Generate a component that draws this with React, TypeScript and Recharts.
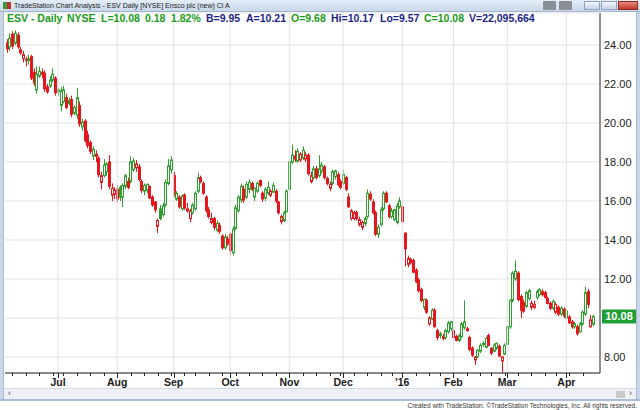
import React from "react";
import { ComposedChart, Bar, XAxis, YAxis, CartesianGrid, ReferenceLine } from "recharts";

// ---- data ----
const OPEN = [24.1,23.9,24.55,24.1,24.5,23.75,23.3,23.2,23.2,23.4,22.6,21.7,22.4,22.5,22.55,21.85,21.9,22.2,22.3,21.7,20.9,21.1,21.3,21.15,21.2,20.5,20.4,20.9,19.8,20.1,19.4,19.0,18.3,18.4,18.2,16.95,17.3,17.5,18.0,16.3,16.35,16.6,16.7,16.2,16.75,17.0,17.0,17.6,17.7,17.75,17.0,16.5,16.55,16.75,16.2,15.95,14.7,15.6,15.3,15.8,16.9,17.6,17.3,16.1,16.2,15.6,16.3,15.5,15.1,15.4,15.6,16.5,17.2,16.9,16.2,15.55,14.9,15.1,14.5,14.75,14.2,13.6,14.05,14.3,13.35,14.6,15.5,16.05,16.6,16.2,16.6,16.9,16.2,16.5,17.05,16.4,16.15,16.4,16.3,16.45,16.5,15.95,14.95,15.0,15.45,16.6,18.0,18.3,18.05,18.1,18.2,18.15,18.35,17.0,17.2,17.65,17.3,17.55,17.75,17.15,16.65,16.9,17.25,17.35,17.0,16.9,17.2,16.2,15.1,15.1,15.4,14.8,14.65,14.85,15.2,16.35,15.95,15.4,14.3,14.8,15.6,16.4,15.75,15.2,15.05,14.9,15.7,15.7,14.35,12.75,13.0,12.95,12.45,11.95,11.45,10.55,10.9,9.7,9.95,10.4,9.35,9.2,8.95,9.0,9.3,9.45,9.0,9.05,8.85,9.05,9.5,9.45,9.0,8.45,7.85,8.0,8.3,8.7,8.5,9.1,8.45,8.3,8.45,8.55,7.8,8.15,8.65,9.55,10.9,12.0,12.3,11.1,10.8,10.6,11.0,10.55,10.55,11.05,11.2,11.35,11.3,11.0,10.75,10.5,10.3,10.55,10.2,10.45,10.0,10.05,9.8,9.55,9.55,9.3,9.7,10.2,11.35,9.55,9.68];
const HIGH = [24.3,24.6,24.7,24.75,24.65,23.9,23.7,23.4,23.5,23.5,22.8,22.9,22.9,22.8,22.7,22.0,22.4,22.8,22.4,21.8,21.85,21.9,21.5,21.3,21.4,20.9,21.8,21.1,20.2,20.2,19.6,19.1,18.8,18.6,18.3,17.5,18.15,18.0,18.35,16.9,16.7,16.8,16.8,16.9,17.4,17.2,18.3,18.2,18.1,17.9,17.1,16.9,16.9,16.8,16.3,16.0,15.1,15.8,15.9,17.1,18.15,18.3,17.5,16.5,16.3,16.35,16.4,15.9,15.6,15.9,16.5,17.45,17.3,17.0,16.3,15.7,15.4,15.2,15.0,14.9,14.3,14.3,14.2,14.4,14.7,15.8,16.3,16.9,16.8,17.0,17.1,17.0,16.7,17.0,17.1,16.5,16.7,17.0,16.6,16.95,16.6,16.0,15.3,15.5,16.6,18.1,18.9,18.6,18.7,18.5,18.8,18.5,18.45,17.5,17.8,17.8,18.35,18.0,17.85,17.25,17.0,17.6,17.6,17.5,17.1,17.6,17.3,16.4,15.6,15.5,15.5,15.2,15.0,15.2,16.6,16.5,16.1,15.5,14.8,15.7,16.5,16.5,15.85,15.65,15.6,15.9,16.2,15.8,14.4,13.2,13.1,13.05,12.55,12.05,11.55,11.0,11.0,10.1,10.5,10.5,9.45,9.3,9.2,9.45,9.85,9.85,9.45,9.15,9.2,9.8,10.9,9.55,9.1,8.55,8.05,8.4,8.7,8.8,9.05,9.2,8.5,8.7,8.75,8.65,8.05,8.7,9.6,10.95,12.4,12.95,12.4,11.2,10.95,11.4,11.5,10.9,10.9,11.45,11.55,11.5,11.4,11.1,10.85,10.95,10.8,10.65,10.6,10.55,10.45,10.15,9.9,9.8,9.65,9.8,10.4,11.6,11.5,10.15,10.17];
const LOW = [23.6,23.7,23.8,24.0,23.8,23.5,23.1,22.9,23.0,22.2,21.9,21.5,22.3,22.3,21.6,21.5,21.8,22.1,21.4,21.4,20.6,21.0,20.7,20.9,20.3,20.4,20.2,19.8,19.6,19.0,18.7,18.4,18.1,18.0,17.2,16.6,17.2,17.3,16.6,16.0,16.1,15.9,16.0,15.7,16.6,16.6,16.9,17.5,17.5,17.0,16.4,16.3,16.4,16.1,15.7,15.4,14.35,15.0,15.2,15.7,16.8,17.4,16.2,16.0,15.6,15.5,15.55,15.4,14.9,15.3,15.5,16.4,16.9,16.3,15.4,15.1,14.8,14.5,14.4,14.3,13.5,13.5,13.7,13.2,13.2,14.5,15.4,15.9,15.9,16.1,16.4,16.5,16.0,16.4,16.7,15.95,16.0,16.3,16.2,16.4,15.9,15.3,14.8,14.9,15.4,16.5,17.9,18.0,17.95,18.0,18.1,18.0,17.3,16.9,17.1,17.1,17.2,17.4,17.1,16.8,16.5,16.8,17.1,16.75,16.6,16.8,16.5,15.65,15.0,15.0,15.0,14.7,14.5,14.7,15.1,16.0,15.3,14.2,14.1,14.7,15.5,15.9,15.1,15.1,14.95,14.8,15.6,14.85,12.65,12.6,12.75,12.3,11.8,11.3,10.8,10.4,10.2,9.6,9.9,9.5,8.85,8.95,8.85,8.9,9.2,9.35,8.95,8.8,8.75,8.95,9.4,9.3,8.3,8.0,7.6,7.95,8.2,8.5,8.45,8.55,8.1,8.25,8.35,8.0,7.15,8.1,8.6,9.45,10.8,11.9,10.85,10.0,10.25,10.5,10.9,10.4,10.45,10.95,11.1,11.1,11.0,10.7,10.4,10.4,10.2,10.1,10.1,10.0,9.95,9.7,9.45,9.45,9.1,9.25,9.6,10.1,10.5,9.5,9.57];
const CLOSE = [23.8,24.35,23.95,24.6,23.9,23.6,23.5,23.25,23.3,22.3,22.05,22.5,22.65,22.6,21.75,21.6,22.2,22.5,21.55,21.6,21.65,21.7,20.8,21.0,20.45,20.8,21.3,19.95,20.05,19.1,18.85,18.55,18.65,18.3,17.35,17.3,17.85,17.9,16.75,16.65,16.55,16.1,16.2,16.8,17.3,16.7,18.0,18.05,17.9,17.1,16.55,16.8,16.85,16.15,15.8,15.55,15.0,15.1,15.75,16.95,17.8,18.1,16.35,16.4,15.7,16.25,15.65,15.6,15.5,15.8,16.4,17.2,17.0,16.4,15.5,15.2,15.1,14.65,14.85,14.45,13.6,14.15,13.8,13.45,14.55,15.65,16.2,16.75,16.05,16.85,16.95,16.6,16.65,16.9,16.8,16.1,16.6,16.7,16.5,16.8,16.0,15.4,15.2,15.4,16.5,18.0,18.35,18.15,18.55,18.4,18.6,18.35,17.4,17.3,17.65,17.2,17.65,17.85,17.2,16.9,16.85,17.5,17.55,16.85,16.7,17.35,16.6,15.7,15.5,15.4,15.1,15.05,14.9,15.1,16.4,16.1,15.4,14.3,14.65,15.55,16.4,15.95,15.2,15.5,15.55,15.75,16.0,14.95,13.55,13.05,12.85,12.35,11.85,11.4,10.9,10.95,10.3,10.0,10.4,9.55,9.0,9.1,9.05,9.35,9.75,9.8,9.35,8.85,9.1,9.7,9.8,9.35,8.4,8.1,8.0,8.35,8.6,8.65,8.95,8.6,8.2,8.6,8.7,8.05,8.0,8.6,9.55,10.9,12.3,12.4,10.95,10.4,10.35,11.3,11.4,10.75,10.7,11.35,11.45,11.2,11.05,10.75,10.5,10.85,10.7,10.2,10.5,10.1,10.35,9.75,9.55,9.7,9.2,9.7,10.3,11.3,10.7,9.9,10.08];

const FIRST_DAY = "2015-06-04";
const HOLIDAYS = ["2015-07-03","2015-09-07","2015-11-26","2015-12-25","2016-01-01","2016-01-18","2016-02-15","2016-03-25"];
const MONTH_LABELS = ["Jul","Aug","Sep","Oct","Nov","Dec","'16","Feb","Mar","Apr"];
const PRICE_TICKS = [8, 10, 12, 14, 16, 18, 20, 22, 24];
const LAST_PRICE = 10.08;

const LEGEND = [
  { t: "ESV - Daily", c: "g", x: 7 },
  { t: "NYSE", c: "g", x: 67 },
  { t: "L=10.08", c: "g", x: 101 },
  { t: "0.18", c: "g", x: 145 },
  { t: "1.82%", c: "g", x: 171 },
  { t: "B=9.95", c: "n", x: 206 },
  { t: "A=10.21", c: "n", x: 246 },
  { t: "O=9.68", c: "g", x: 291 },
  { t: "Hi=10.17", c: "n", x: 331 },
  { t: "Lo=9.57", c: "n", x: 380 },
  { t: "C=10.08", c: "g", x: 424 },
  { t: "V=22,095,664", c: "n", x: 469 },
];

const GREEN = "#2f9f2f";
const RED = "#e5161c";
const FONT = "'Liberation Sans', Arial, sans-serif";

// ---- trading calendar for the category axis ----
function buildCalendar(n: number) {
  const hol = new Set(HOLIDAYS);
  const out: { m: number; dow: number }[] = [];
  let t = Date.parse(FIRST_DAY + "T00:00:00Z");
  while (out.length < n) {
    const d = new Date(t);
    const dow = d.getUTCDay();
    const key = d.toISOString().slice(0, 10);
    if (dow !== 0 && dow !== 6 && !hol.has(key)) out.push({ m: d.getUTCMonth(), dow });
    t += 86400000;
  }
  return out;
}

const CAL = buildCalendar(CLOSE.length);
const rows = CLOSE.map((c, i) => ({
  i,
  o: OPEN[i],
  h: HIGH[i],
  l: LOW[i],
  c,
  up: c >= (i > 0 ? CLOSE[i - 1] : OPEN[i]),
}));

const monthStarts: number[] = [];
const weekStarts: number[] = [];
CAL.forEach((d, i) => {
  if (i === 0) return;
  if (d.m !== CAL[i - 1].m) monthStarts.push(i);
  if (d.dow < CAL[i - 1].dow) weekStarts.push(i);
});
const monthLabelAt = new Map<number, string>();
monthStarts.forEach((idx, k) => monthLabelAt.set(idx, MONTH_LABELS[k]));
const xTicks = Array.from(new Set([...weekStarts, ...monthStarts])).sort((a, b) => a - b);

function Candle(props: any) {
  const { x, y, width, height, payload } = props;
  const { o, h, l, c, up } = payload;
  const cx = Math.round(x + width / 2) + 0.5;
  const k = h > l ? height / (h - l) : 0;
  const py = (v: number) => y + (h - v) * k;
  const top = py(Math.max(o, c));
  const bot = py(Math.min(o, c));
  const col = up ? GREEN : RED;
  const filled = c < o;
  return (
    <g>
      <line x1={cx} x2={cx} y1={y} y2={y + height} stroke={col} strokeWidth={1} />
      <rect x={cx - 1} y={top} width={2} height={Math.max(bot - top, 1)} fill={filled ? col : "#fff"} stroke={col} strokeWidth={1} />
    </g>
  );
}

function XTick(props: any) {
  const { x, y, payload } = props;
  const lab = monthLabelAt.get(payload.value);
  const X = Math.round(x) + 0.5;
  return (
    <g>
      <line x1={X} x2={X} y1={y} y2={y + (lab ? 5 : 3)} stroke="#222" strokeWidth={1} />
      {lab && (
        <text x={x} y={y + 13} textAnchor="middle" fontSize={10.5} fontWeight="bold" fill="#1a1a1a" fontFamily={FONT}>
          {lab}
        </text>
      )}
    </g>
  );
}

function YTick(props: any) {
  const { x, y, payload } = props;
  // the last-price badge sits over this label in the reference
  if (Math.abs(Number(payload.value) - LAST_PRICE) < 0.4) return <g />;
  return (
    <text x={x} y={y} dy="0.35em" textAnchor="start" fontSize={11} fill="#222" fontFamily={FONT}>
      {Number(payload.value).toFixed(2)}
    </text>
  );
}

function Badge(props: any) {
  const vb = props.viewBox || {};
  const bx = vb.x + vb.width + 2;
  const by = vb.y;
  return (
    <g>
      <rect x={bx} y={by - 7} width={34} height={14} rx={1} fill="#1e9e35" />
      <text x={bx + 17} y={by} dy="0.36em" textAnchor="middle" fontSize={11} fontWeight="bold" fill="#fff" fontFamily={FONT}>
        {LAST_PRICE.toFixed(2)}
      </text>
    </g>
  );
}

export default function App() {
  return (
    <div style={{ position: "absolute", left: 0, top: 0, width: 640, height: 410, background: "#fff", overflow: "hidden", fontFamily: FONT }}>
      <div style={{ position: "absolute", left: 0, top: 0 }}>
        <ComposedChart width={640} height={410} data={rows} margin={{ top: 13, right: 0, bottom: 0, left: 5 }}>
          <CartesianGrid horizontal={true} vertical={false} stroke="#e2e2e2" />
          {monthStarts.map((m) => (
            <ReferenceLine key={m} x={m} stroke="#e2e2e2" />
          ))}
          <XAxis
            type="number"
            dataKey="i"
            domain={[-0.7, 220.5]}
            allowDataOverflow
            ticks={xTicks}
            interval={0}
            tick={<XTick />}
            tickLine={false}
            tickSize={0}
            tickMargin={0}
            axisLine={{ stroke: "#222" }}
            height={37}
          />
          <YAxis
            orientation="right"
            domain={[7.18, 25.64]}
            allowDataOverflow
            ticks={PRICE_TICKS}
            interval={0}
            tick={<YTick />}
            tickLine={false}
            tickSize={0}
            tickMargin={4}
            axisLine={{ stroke: "#222" }}
            width={40}
          />
          <Bar dataKey={(d: any) => [d.l, d.h]} shape={<Candle />} barSize={3} isAnimationActive={false} />
          <ReferenceLine y={LAST_PRICE} stroke="none" label={<Badge />} />
        </ComposedChart>
      </div>

      {/* window title bar */}
      <div style={{ position: "absolute", left: 0, top: 0, width: 640, height: 12, background: "linear-gradient(#e4edf7,#c9d8ea)", borderBottom: "1px solid #9fb4cf", boxSizing: "border-box" }}>
        <div style={{ position: "absolute", left: 3, top: 2, width: 8, height: 7, background: "linear-gradient(90deg,#3a9a3a 50%,#c03030 50%)" }} />
        <span style={{ position: "absolute", left: 14, top: 1, fontSize: 7, lineHeight: "9px", color: "#222", whiteSpace: "nowrap" }}>
          TradeStation Chart Analysis - ESV Daily [NYSE] Ensco plc (new) Cl A
        </span>
        <div style={{ position: "absolute", left: 543, top: 1, width: 13, height: 9, background: "#8a8f96", borderRadius: 1 }} />
        <div style={{ position: "absolute", left: 559, top: 1, width: 13, height: 9, background: "#8a8f96", borderRadius: 1 }} />
        <div style={{ position: "absolute", left: 584, top: 1, width: 16, height: 9, background: "linear-gradient(#f4f7fb,#c8d3e2)", border: "1px solid #8ea3bf", boxSizing: "border-box" }} />
        <div style={{ position: "absolute", left: 601, top: 1, width: 16, height: 9, background: "linear-gradient(#f4f7fb,#c8d3e2)", border: "1px solid #8ea3bf", boxSizing: "border-box" }} />
        <div style={{ position: "absolute", left: 618, top: 1, width: 20, height: 9, background: "linear-gradient(#e58a7e,#c3392c)", border: "1px solid #8e2a20", boxSizing: "border-box" }} />
      </div>

      {/* legend line */}
      {LEGEND.map((s) => (
        <span
          key={s.t}
          style={{ position: "absolute", left: s.x, top: 12, fontSize: 10.5, lineHeight: "12px", fontWeight: "bold", whiteSpace: "nowrap", color: s.c === "g" ? "#1a9a1a" : "#1b1f86" }}
        >
          {s.t}
        </span>
      ))}

      {/* frame edges */}
      <div style={{ position: "absolute", left: 0, top: 12, width: 4, height: 389, background: "#c9d6e6", borderRight: "1px solid #a9bad0", boxSizing: "border-box" }} />
      <div style={{ position: "absolute", left: 636, top: 12, width: 4, height: 389, background: "#c9d6e6", borderLeft: "1px solid #a9bad0", boxSizing: "border-box" }} />

      {/* scroll bar */}
      <div style={{ position: "absolute", left: 4, top: 388, width: 632, height: 11, background: "#eef1f5", borderTop: "1px solid #d3dae3", boxSizing: "border-box" }}>
        <span style={{ position: "absolute", left: 4, top: -1, fontSize: 9, color: "#555" }}>‹</span>
        <div style={{ position: "absolute", left: 612, top: 2, width: 9, height: 7, background: "#c8c8c8" }} />
        <span style={{ position: "absolute", left: 625, top: -1, fontSize: 9, color: "#555" }}>›</span>
      </div>
      <div style={{ position: "absolute", left: 0, top: 399, width: 640, height: 2, background: "#a9bfd9" }} />

      {/* footer */}
      <span style={{ position: "absolute", right: 3, top: 401, fontSize: 6.5, lineHeight: "9px", color: "#333", whiteSpace: "nowrap" }}>
        Created with TradeStation. ©TradeStation Technologies, Inc. All rights reserved.
      </span>
    </div>
  );
}
